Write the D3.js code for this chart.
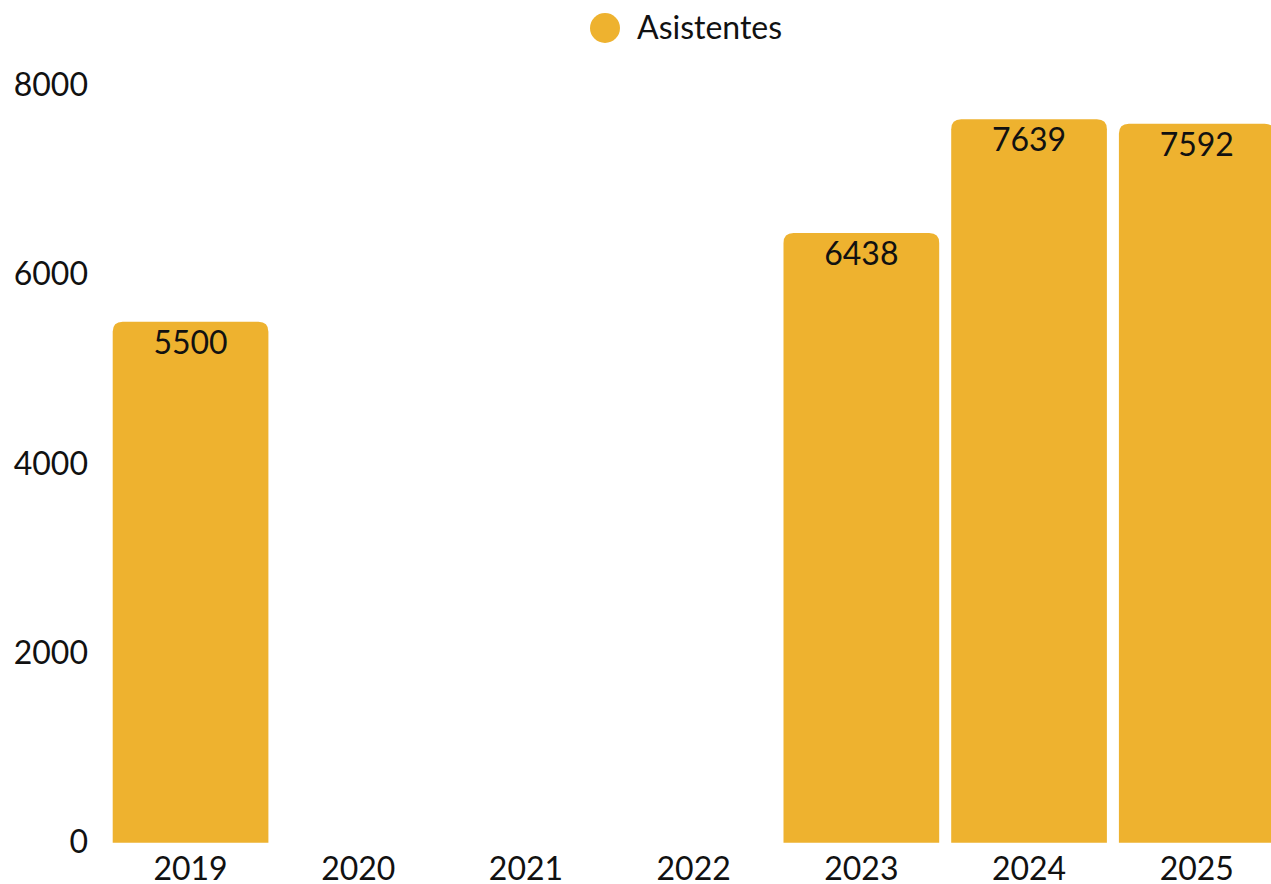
<!DOCTYPE html>
<html>
<head>
<meta charset="utf-8">
<script src="https://cdn.jsdelivr.net/npm/d3@7"></script>
<style>
  html, body { margin: 0; padding: 0; background: #fff; overflow: hidden; }
  svg { display: block; font-family: Lato, "Open Sans", sans-serif; }
</style>
</head>
<body>
<div id="graphicContainer"></div>
<script>
var years = ["2019", "2020", "2021", "2022", "2023", "2024", "2025"]
var asistentes = [5500, null, null, null, 6438, 7639, 7592]
var yTicks = [0, 2000, 4000, 6000, 8000]
var seriesName = "Asistentes"

var width = 1271
var height = 884
var color = "#eeb22f"
var fontSize = 32

var svg = d3.select("#graphicContainer")
  .append("svg")
  .attr("width", width)
  .attr("height", height)
  .style("font-size", fontSize + "px")

var x = d3.scaleBand()
  .domain(years)
  .range([106.7, 1280.6])
  .paddingInner(0.0716)
  .paddingOuter(0.0358)

var y = d3.scaleLinear()
  .domain([0, 8000])
  .range([842.7, 85])

var data = years.map(function (d, i) {
  return { year: d, value: asistentes[i] }
}).filter(function (d) { return d.value != null })

// rounded top corners only
function barPath(d) {
  var x0 = x(d.year), w = x.bandwidth()
  var y0 = y(d.value), y1 = y(0)
  var r = Math.min(10, w / 2, y1 - y0)
  return "M" + x0 + "," + y1 +
    "V" + (y0 + r) +
    "Q" + x0 + "," + y0 + " " + (x0 + r) + "," + y0 +
    "H" + (x0 + w - r) +
    "Q" + (x0 + w) + "," + y0 + " " + (x0 + w) + "," + (y0 + r) +
    "V" + y1 + "Z"
}

svg.append("g")
  .selectAll("path")
  .data(data)
  .join("path")
  .attr("d", barPath)
  .attr("fill", color)

svg.append("g")
  .selectAll("text")
  .data(data)
  .join("text")
  .attr("x", function (d) { return x(d.year) + x.bandwidth() / 2 })
  .attr("y", function (d) { return y(d.value) + 32 })
  .attr("text-anchor", "middle")
  .attr("fill", "#111")
  .text(function (d) { return d.value })

// y axis, labels only
var yAxis = svg.append("g")
  .attr("transform", "translate(88,0)")
  .call(d3.axisLeft(y).tickValues(yTicks).tickSize(0).tickPadding(0).tickFormat(d3.format("d")))
yAxis.select(".domain").remove()
yAxis.selectAll("text")
  .attr("font-size", fontSize)
  .attr("font-family", "Lato, sans-serif")
  .attr("fill", "#111")

// x axis, labels only
var xAxis = svg.append("g")
  .attr("transform", "translate(0," + y(0) + ")")
  .call(d3.axisBottom(x).tickSize(0).tickPadding(15))
xAxis.select(".domain").remove()
xAxis.selectAll("text")
  .attr("font-size", fontSize)
  .attr("font-family", "Lato, sans-serif")
  .attr("fill", "#111")

// legend
var legend = svg.append("g")
legend.append("circle")
  .attr("cx", 605)
  .attr("cy", 28)
  .attr("r", 15)
  .attr("fill", color)
legend.append("text")
  .attr("x", 637)
  .attr("y", 39)
  .attr("fill", "#111")
  .text(seriesName)
</script>
</body>
</html>
